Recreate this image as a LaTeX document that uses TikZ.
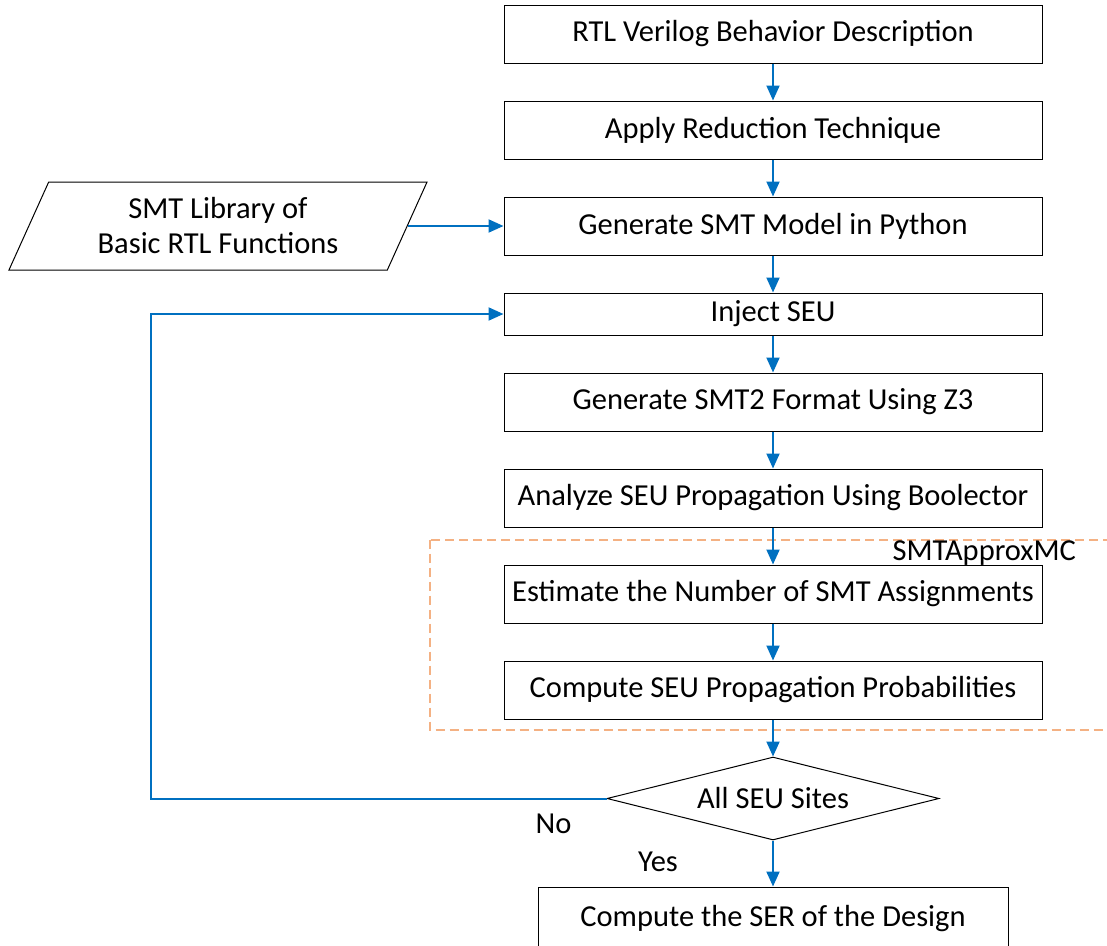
\documentclass[tikz,border=0pt]{standalone}
\usepackage{fontspec}
\setmainfont{Carlito}
\usetikzlibrary{shapes.geometric, positioning, calc, arrows.meta}
\definecolor{flowblue}{HTML}{0070C0}
\definecolor{groupline}{HTML}{F4B183}

\begin{document}
\begin{tikzpicture}[
         x=1pt, y=1pt,
         node distance=37pt,
         font=\fontsize{30.5}{35}\selectfont,
         process/.style={rectangle, draw, line width=1pt, minimum width=538pt, minimum height=58pt, inner sep=0pt},
         decision/.style={diamond, draw, line width=1pt, aspect=4, minimum width=332pt, minimum height=83pt, inner sep=0pt},
         data/.style={trapezium, draw, line width=1pt, trapezium left angle=63.4, trapezium right angle=116.6,
                      trapezium stretches=true, minimum width=419pt, minimum height=88pt, align=center, inner sep=0pt},
         flow/.style={draw=flowblue, line width=2pt, -{Triangle[length=15pt, width=13pt]}, color=flowblue},
         group/.style={draw=groupline, line width=2pt, dash pattern=on 9pt off 5pt}
      ]
         \useasboundingbox (0,0) rectangle (1107,-945);

         % Main chain
         \node[process] (rtl) at (773,-34) {RTL Verilog Behavior Description};
         \node[process] (reduce) [below=of rtl] {Apply Reduction Technique};
         \node[process] (model) [below=of reduce] {Generate SMT Model in Python};
         \node[process, minimum height=42pt] (inject) [below=of model] {Inject SEU};
         \node[process] (smt2) [below=of inject] {Generate SMT2 Format Using Z3};
         \node[process] (analyze) [below=of smt2] {Analyze SEU Propagation Using Boolector};
         \node[process] (estimate) [below=of analyze] {Estimate the Number of SMT Assignments};
         \node[process] (prob) [below=of estimate] {Compute SEU Propagation Probabilities};
         \node[decision] (sites) [below=of prob] {All SEU Sites};
         \node[process, minimum width=470pt, minimum height=64pt] (ser) [below=46pt of sites] {Compute the SER of the Design};

         % Library input
         \node[data] (lib) at (218,-226) {SMT Library of\\Basic RTL Functions};

         % SMTApproxMC group
         \draw[group] ($(estimate.north west)+(-74,25)$) rectangle ($(prob.south east)+(70,-10)$);
         \node (approx) [anchor=north east] at ($(estimate.north east)+(37,27)$) {SMTApproxMC};

         % Arrows
         \draw[flow] (rtl) -- (reduce);
         \draw[flow] (reduce) -- (model);
         \draw[flow] (model) -- (inject);
         \draw[flow] (inject) -- (smt2);
         \draw[flow] (smt2) -- (analyze);
         \draw[flow] (analyze) -- (estimate);
         \draw[flow] (estimate) -- (prob);
         \draw[flow] (prob) -- (sites);
         \draw[flow] (sites) -- (ser);
         \draw[flow] (lib.east) -- (lib.east -| model.west);

         % Loop back
         \coordinate (back) at (151,0);
         \draw[flow] (sites.west) -- (sites.west -| back) |- (inject.west);

         % Branch labels
         \node (no) at ($(sites.west)+(-53,-25)$) {No};
         \node (yes) at ($(sites.south)+(-115,-21)$) {Yes};
      \end{tikzpicture}
\end{document}
